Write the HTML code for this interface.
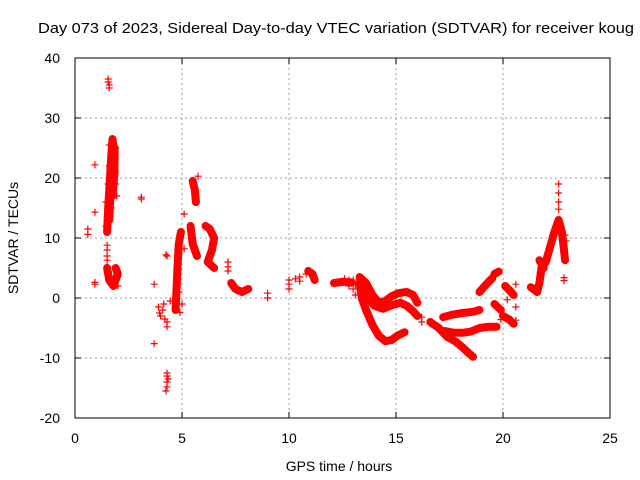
<!DOCTYPE html>
<html><head><meta charset="utf-8"><style>
body{margin:0;background:#fff;}
svg{display:block;font-family:"Liberation Sans",sans-serif;}
</style></head><body>
<svg id="chart" width="640" height="480" xmlns="http://www.w3.org/2000/svg">
<text x="38" y="33" font-size="15" textLength="596" lengthAdjust="spacingAndGlyphs">Day 073 of 2023, Sidereal Day-to-day VTEC variation (SDTVAR) for receiver koug</text>
<g id="grid"></g>
<g id="axes"></g>
<g id="tracks"></g>
<g id="pts"></g>
<rect x="75" y="58" width="535" height="360" fill="none" stroke="#000" stroke-width="1"/>
<text x="339" y="471" font-size="14" text-anchor="middle">GPS time / hours</text>
<text transform="translate(18,238) rotate(-90)" font-size="14" text-anchor="middle">SDTVAR / TECUs</text>
</svg>
<script>
const xTicks=[0,5,10,15,20,25];
const yTicks=[-20,-10,0,10,20,30,40];
const scatterPts=[[1.55,36.5],[1.55,36],[1.6,35.5],[1.6,35],[0.93,22.2],[0.93,14.3],[0.6,11.5],[0.6,10.6],[3.1,16.8],[3.1,16.5],[1.5,8.8],[1.5,8],[1.5,7],[1.5,6.3],[0.93,2.3],[0.93,2.6],[3.7,2.3],[3.7,-7.6],[3.9,-1.5],[3.95,-2.5],[4.0,-3],[4.1,-2],[4.15,-1],[4.2,-3.5],[4.3,-4],[4.3,-4.8],[4.3,-12.5],[4.3,-13],[4.3,-14],[4.3,-14.8],[4.25,-15.5],[4.35,-13.5],[4.3,7],[4.25,7.2],[4.45,-0.5],[5.1,14],[5.1,8.2],[5.75,20.3],[7.15,6],[7.15,5.2],[7.15,4.5],[9.0,0.8],[9.0,0],[10.0,3],[10.0,2.3],[10.0,1.5],[10.3,3.2],[10.5,3.5],[10.5,2.8],[10.8,4],[12.6,3.2],[12.8,3],[12.8,2],[13.0,3],[13.0,1.5],[13.1,0.5],[13.1,2.2],[16.2,-3.2],[16.2,-4],[16.6,-4.3],[20.6,2.3],[20.6,-1.5],[20.6,-3.7],[20.2,-0.3],[19.9,-3.6],[22.6,19],[22.6,17.5],[22.6,16],[22.6,14.8],[22.85,3.4],[22.85,2.9],[22.9,10.5],[22.95,9.5],[1.45,12],[1.5,13.5],[1.45,16],[1.9,25],[1.85,23],[5.0,-1],[4.9,-2.4],[4.85,1],[1.6,25.5],[1.6,22],[1.55,19],[1.9,19],[1.95,17],[1.7,15],[1.9,3],[2.0,2]];
const tracks=[
[[1.5,11],[1.55,15],[1.6,18],[1.65,21],[1.7,24],[1.75,26.5],[1.8,25],[1.85,21],[1.75,17]],
[[1.6,13],[1.65,17],[1.85,22.5],[1.85,25],[1.75,22]],
[[1.5,5],[1.6,3],[1.8,2],[2.0,4],[1.9,5]],
[[4.7,-2],[4.75,2],[4.8,6],[4.85,9],[4.95,11]],
[[5.5,19.5],[5.6,18],[5.65,16]],
[[5.4,12],[5.5,9],[5.6,8],[5.7,7]],
[[6.1,12],[6.3,11.5],[6.5,10],[6.4,8],[6.2,6],[6.5,5]],
[[7.3,2.5],[7.5,1.5],[7.8,1],[8.1,1.5]],
[[12.1,2.5],[12.5,2.7],[12.9,2.6]],
[[10.9,4.5],[11.1,4],[11.2,3]],
[[13.3,2.5],[13.4,0],[13.6,-2],[13.9,-4.5],[14.2,-6.3],[14.5,-7.2],[14.8,-7],[15.1,-6.2],[15.4,-5.7]],
[[13.3,3.5],[13.6,2.5],[13.9,0.5],[14.2,-0.8],[14.5,-0.5],[14.8,0.3],[15.1,0.8],[15.5,1],[15.8,0.5],[16.0,-0.8]],
[[13.5,1.5],[13.7,-0.2],[14.0,-1.3],[14.4,-1.8],[14.8,-1.2],[15.2,-0.8],[15.5,-1.3],[15.8,-2.2],[16.0,-3]],
[[16.6,-4],[17.0,-5],[17.4,-6.5],[17.8,-7.3],[18.1,-8.2],[18.4,-9.2],[18.6,-9.8]],
[[17.3,-5.5],[17.7,-5.8],[18.1,-5.8],[18.5,-5.6],[18.9,-5],[19.3,-4.8],[19.7,-4.8]],
[[17.2,-3.2],[17.6,-2.8],[18.1,-2.5],[18.6,-2.3],[18.9,-2]],
[[18.9,1],[19.2,2.2],[19.5,3.3]],
[[19.6,4],[19.8,4.4]],
[[19.6,-1],[19.9,-2]],
[[20.0,-3],[20.3,-3.6],[20.5,-4.3]],
[[20.1,2],[20.3,1.3],[20.5,0.5]],
[[21.3,1.8],[21.6,1],[21.7,2.5],[21.8,5],[22.0,6],[22.2,8.5],[22.4,11],[22.6,13],[22.75,11],[22.85,8],[22.9,6.3]],
[[21.7,6.3],[21.9,5]]
];
const NS="http://www.w3.org/2000/svg";
const X0=75,X1=610,Y0=418,Y1=58;
function sx(v){return X0+(v-0)/25*(X1-X0);}
function sy(v){return Y0-(v+20)/60*(Y0-Y1);}
function mk(tag,attrs,parent){const e=document.createElementNS(NS,tag);for(const k in attrs)e.setAttribute(k,attrs[k]);parent.appendChild(e);return e;}
const grid=document.getElementById('grid'),axes=document.getElementById('axes');
xTicks.forEach(t=>{
  const x=sx(t);
  if(t>0&&t<25){const l=mk('line',{x1:x,y1:Y1,x2:x,y2:Y0,stroke:'#a0a0a0','stroke-dasharray':'2,3'},grid);
  
  }
  mk('line',{x1:x,y1:Y0,x2:x,y2:Y0-6,stroke:'#000'},axes);
  mk('line',{x1:x,y1:Y1,x2:x,y2:Y1+6,stroke:'#000'},axes);
  const tx=mk('text',{x:x,y:443,'font-size':'14','text-anchor':'middle'},axes);
  tx.textContent=t;
  
  
});
yTicks.forEach(t=>{
  const y=sy(t);
  if(t>-20&&t<40){const l=mk('line',{x1:X0,y1:y,x2:X1,y2:y,stroke:'#a0a0a0','stroke-dasharray':'2,3'},grid);
  
  }
  mk('line',{x1:X0,y1:y,x2:X0+6,y2:y,stroke:'#000'},axes);
  mk('line',{x1:X1,y1:y,x2:X1-6,y2:y,stroke:'#000'},axes);
  const tx=mk('text',{x:60,y:y+5,'font-size':'14','text-anchor':'end'},axes);
  tx.textContent=t;
  
  
});
const tg=document.getElementById('tracks'),pg=document.getElementById('pts');
function plus(x,y){const p=mk('path',{d:`M${x-3.5},${y}h7M${x},${y-3.5}v7`,stroke:'#f00','stroke-width':'1.2',fill:'none'},pg);
  
  }
tracks.forEach(tr=>{
  const pl=mk('polyline',{points:tr.map(p=>sx(p[0])+','+sy(p[1])).join(' '),stroke:'#f00','stroke-width':'8',fill:'none','stroke-linejoin':'round','stroke-linecap':'round'},tg);
  
  
  tr.forEach(p=>plus(sx(p[0]),sy(p[1])));
});
scatterPts.forEach(p=>plus(sx(p[0]),sy(p[1])));
</script>
</body></html>
